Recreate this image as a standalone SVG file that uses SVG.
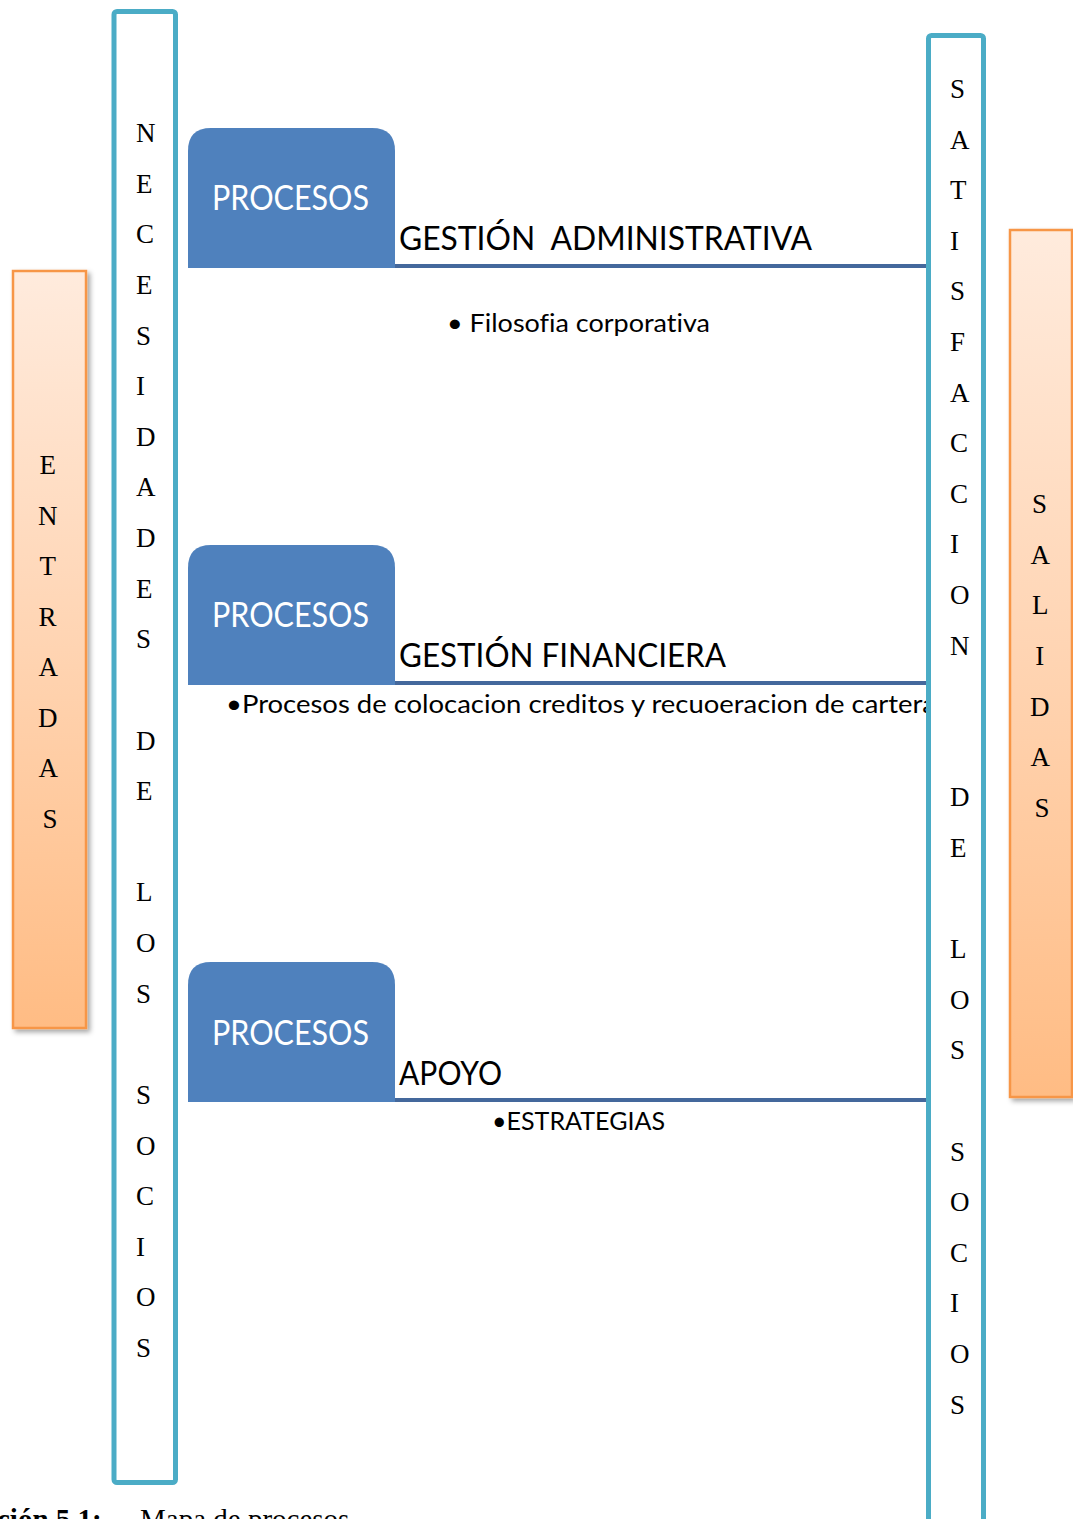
<svg xmlns="http://www.w3.org/2000/svg" width="1073" height="1519" viewBox="0 0 1073 1519">
  <defs>
    <linearGradient id="peach" x1="0" y1="0" x2="0" y2="1">
      <stop offset="0" stop-color="#FFEBDD"/>
      <stop offset="0.5" stop-color="#FFD4B2"/>
      <stop offset="1" stop-color="#FFBC84"/>
    </linearGradient>
    <filter id="shadow" x="-20%" y="-5%" width="150%" height="115%">
      <feDropShadow dx="3" dy="3" stdDeviation="2.5" flood-color="#000" flood-opacity="0.35"/>
    </filter>
    <path id="tab" d="M188,268 V151 Q188,128 211,128 H372 Q395,128 395,151 V268 Z"/>
  </defs>
  <style>
    .frame { fill: #FFFFFF; stroke: #4BACC6; stroke-width: 5; }
    .side { fill: url(#peach); stroke: #F79646; stroke-width: 2.5; filter: url(#shadow); }
    .tabshape { fill: #4F81BD; }
    .rule { stroke: #44689C; stroke-width: 4; }
    .letter { font-family: "Liberation Serif", "Times New Roman", serif; font-size: 27px; fill: #000; }
    .mid { text-anchor: middle; }
    .tablabel { font-family: Lato, "Open Sans", sans-serif; font-size: 34px; fill: #FFFFFF; }
    .title { font-family: Lato, "Open Sans", sans-serif; font-size: 32px; fill: #000; white-space: pre; }
    .item { font-family: Lato, "Open Sans", sans-serif; font-size: 25px; fill: #000; font-variant-ligatures: none; }
    .caption { font-family: "Liberation Serif", "Times New Roman", serif; font-size: 29px; fill: #000; }
  </style>

  <!-- ENTRADAS side panel -->
  <g id="entradas">
    <rect class="side" x="13" y="271" width="73" height="757"/>
    <text class="letter mid">
      <tspan x="51" y="474">E</tspan>
      <tspan x="51" y="524.6">N</tspan>
      <tspan x="51" y="575.1">T</tspan>
      <tspan x="51" y="625.7">R</tspan>
      <tspan x="51" y="676.3">A</tspan>
      <tspan x="51" y="726.9">D</tspan>
      <tspan x="51" y="777.4">A</tspan>
      <tspan x="50" y="828">S</tspan>
    </text>
  </g>

  <!-- SALIDAS side panel -->
  <g id="salidas">
    <rect class="side" x="1010" y="230" width="62" height="867"/>
    <text class="letter mid">
      <tspan x="1043" y="513">S</tspan>
      <tspan x="1043" y="563.7">A</tspan>
      <tspan x="1043" y="614.3">L</tspan>
      <tspan x="1043" y="665">I</tspan>
      <tspan x="1043" y="715.7">D</tspan>
      <tspan x="1043" y="766.3">A</tspan>
      <tspan x="1042" y="817">S</tspan>
    </text>
  </g>

  <!-- NECESIDADES DE LOS SOCIOS column -->
  <g id="necesidades">
    <rect class="frame" x="114" y="11.5" width="61.5" height="1471" rx="3"/>
    <text class="letter">
      <tspan x="136" y="142">N</tspan>
      <tspan x="136" y="192.6">E</tspan>
      <tspan x="136" y="243.3">C</tspan>
      <tspan x="136" y="293.9">E</tspan>
      <tspan x="136" y="344.5">S</tspan>
      <tspan x="136" y="395.1">I</tspan>
      <tspan x="136" y="445.8">D</tspan>
      <tspan x="136" y="496.4">A</tspan>
      <tspan x="136" y="547">D</tspan>
      <tspan x="136" y="597.6">E</tspan>
      <tspan x="136" y="648.3">S</tspan>
      <tspan x="136" y="749.5">D</tspan>
      <tspan x="136" y="800.1">E</tspan>
      <tspan x="136" y="901.4">L</tspan>
      <tspan x="136" y="952">O</tspan>
      <tspan x="136" y="1002.6">S</tspan>
      <tspan x="136" y="1103.9">S</tspan>
      <tspan x="136" y="1154.5">O</tspan>
      <tspan x="136" y="1205.1">C</tspan>
      <tspan x="136" y="1255.8">I</tspan>
      <tspan x="136" y="1306.4">O</tspan>
      <tspan x="136" y="1357">S</tspan>
    </text>
  </g>

  <!-- Process rows: tab, title, rule and item -->
  <g id="proceso-administrativo">
    <use href="#tab" class="tabshape"/>
    <text class="tablabel" x="212" y="210" textLength="157" lengthAdjust="spacingAndGlyphs">PROCESOS</text>
    <text class="title" x="399" y="250" textLength="413" lengthAdjust="spacingAndGlyphs">GESTIÓN  ADMINISTRATIVA</text>
    <text class="item" x="447" y="332" textLength="263" lengthAdjust="spacingAndGlyphs">• Filosofia corporativa</text>
  </g>

  <g id="proceso-financiero">
    <use href="#tab" class="tabshape" transform="translate(0,417)"/>
    <text class="tablabel" x="212" y="627" textLength="157" lengthAdjust="spacingAndGlyphs">PROCESOS</text>
    <text class="title" x="399" y="667" textLength="327" lengthAdjust="spacingAndGlyphs">GESTIÓN FINANCIERA</text>
    <text class="item" x="226" y="713" textLength="710" lengthAdjust="spacingAndGlyphs">•Procesos de colocacion creditos y recuoeracion de cartera</text>
  </g>

  <g id="proceso-apoyo">
    <use href="#tab" class="tabshape" transform="translate(0,834)"/>
    <text class="tablabel" x="212" y="1045" textLength="157" lengthAdjust="spacingAndGlyphs">PROCESOS</text>
    <text class="title" x="399" y="1085" textLength="103" lengthAdjust="spacingAndGlyphs">APOYO</text>
    <text class="item" x="492" y="1130" textLength="173" lengthAdjust="spacingAndGlyphs">•ESTRATEGIAS</text>
  </g>

  <!-- Rules running from each tab to the right column -->
  <g id="connectors">
    <line class="rule" x1="395" y1="266" x2="928" y2="266"/>
    <line class="rule" x1="395" y1="683" x2="928" y2="683"/>
    <line class="rule" x1="395" y1="1100" x2="928" y2="1100"/>
  </g>

  <!-- SATISFACCION DE LOS SOCIOS column -->
  <g id="satisfaccion">
    <rect class="frame" x="928.5" y="35.5" width="55" height="1500" rx="3"/>
    <text class="letter">
      <tspan x="950" y="98">S</tspan>
      <tspan x="950" y="148.6">A</tspan>
      <tspan x="950" y="199.2">T</tspan>
      <tspan x="950" y="249.8">I</tspan>
      <tspan x="950" y="300.4">S</tspan>
      <tspan x="950" y="351">F</tspan>
      <tspan x="950" y="401.6">A</tspan>
      <tspan x="950" y="452.2">C</tspan>
      <tspan x="950" y="502.8">C</tspan>
      <tspan x="950" y="553.4">I</tspan>
      <tspan x="950" y="604">O</tspan>
      <tspan x="950" y="654.6">N</tspan>
      <tspan x="950" y="806.4">D</tspan>
      <tspan x="950" y="857">E</tspan>
      <tspan x="950" y="958.2">L</tspan>
      <tspan x="950" y="1008.8">O</tspan>
      <tspan x="950" y="1059.4">S</tspan>
      <tspan x="950" y="1160.6">S</tspan>
      <tspan x="950" y="1211.2">O</tspan>
      <tspan x="950" y="1261.8">C</tspan>
      <tspan x="950" y="1312.4">I</tspan>
      <tspan x="950" y="1363">O</tspan>
      <tspan x="950" y="1413.6">S</tspan>
    </text>
  </g>

  <!-- Figure caption, running off the bottom edge of the page -->
  <g id="caption">
    <text class="caption" x="-3" y="1529" font-weight="bold">ción 5.1:</text>
    <text class="caption" x="140" y="1529">Mapa de procesos</text>
  </g>
</svg>
